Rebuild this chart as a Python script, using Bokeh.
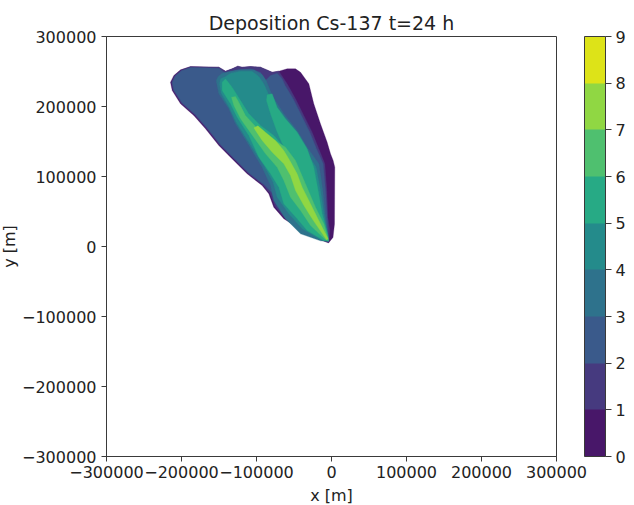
from bokeh.embed import file_html
from bokeh.resources import INLINE
from bokeh.plotting import figure
from bokeh.models import ColorBar, LinearColorMapper, FixedTicker

title = "Deposition Cs-137 t=24 h"
x_label = "x [m]"
y_label = "y [m]"
x_ticks = [-300000, -200000, -100000, 0, 100000, 200000, 300000]
y_ticks = [-300000, -200000, -100000, 0, 100000, 200000, 300000]
bar_ticks = [0, 1, 2, 3, 4, 5, 6, 7, 8, 9]
band_colors = ["#481769", "#463a7f", "#3a5a8b", "#2e728c", "#248b8b",
               "#27aa85", "#4fc06f", "#90d743", "#dde318"]

# Filled contour outlines in metres, one per deposition level
level0_x = [-4000, 2000, 4000, 4400, 2200, -1300, -5800, -14700, -23600, -30200, -41300, -48000, -59100, -70200, -79100,
            -94700, -108000, -119100, -125000, -132500, -141300, -150200, -188000, -201300, -210200, -214700,
            -212400, -201300, -183600, -168000, -150200, -134700, -112500, -92500, -83600, -77000, -63600, -45800,
            -28000, -12500]
level0_y = [5000, 13000, 32000, 113300, 122900, 132400, 149000, 175200, 203800, 232400, 249000, 253800, 253800, 250500,
            249000, 256200, 257100, 256200, 257600, 253800, 250500, 256200, 257100, 252400, 244300, 234800, 222900,
            203800, 187100, 168100, 144300, 127600, 103800, 87100, 75200, 56200, 39500, 27600, 18100, 8600]

level1_x = [-3600, -2200, -4900, -6200, -8900, -16900, -25800, -36900, -48000, -59100, -70200, -79100, -94700,
            -108000, -119100, -125000, -132500, -141300, -150200, -188000, -200800, -209400, -213500, -211400,
            -200300, -182600, -167000, -149200, -133700, -111500, -91500, -82000, -75200, -62300, -44800, -27000,
            -11500]
level1_y = [6200, 22800, 41900, 80000, 118100, 139500, 163300, 187100, 211000, 232400, 250500, 249000, 256200,
            257100, 256200, 257600, 253800, 250500, 256200, 256800, 251800, 244000, 234500, 223300, 204500, 187800,
            168800, 145000, 128300, 104500, 87800, 75800, 57000, 40500, 28300, 18800, 9300]

level2_x = [-4000, -5800, -8000, -11100, -20000, -28900, -40000, -51100, -61800, -65800, -72500, -81300, -88000,
            -94700, -108000, -125800, -141300, -150200, -188000, -200000, -208300, -212300, -210300, -199300,
            -181600, -166000, -148200, -132700, -110500, -90000, -79800, -72800, -60000, -42000, -25000, -10000]
level2_y = [6700, 41900, 80000, 118100, 139500, 163300, 187100, 211000, 230000, 239500, 247600, 244300, 237100,
            249000, 253800, 252400, 247600, 254800, 255800, 251000, 243500, 234200, 223700, 205200, 188500, 169500,
            145700, 129000, 105200, 88700, 77000, 58500, 42800, 30300, 20500, 9800]

level3_x = [-4000, -8400, -11600, -16900, -32500, -45800, -63600, -79100, -87100, -92500, -103600, -121300, -134700,
            -145800, -151100, -153800, -150200, -136900, -128000, -112500, -92500, -81300, -76900, -61300, -41300,
            -14700]
level3_y = [7100, 46700, 80000, 118100, 141900, 165700, 189500, 215700, 237100, 245700, 252400, 252400, 250500,
            247600, 242900, 237100, 218100, 196700, 175200, 149000, 113300, 87100, 65700, 39500, 18100, 8100]

level4_x = [-4000, -10200, -14700, -20500, -36000, -50200, -68000, -82200, -90200, -96900, -105800, -121300, -134700,
            -141300, -148000, -149300, -147100, -136000, -126700, -111100, -90200, -77800, -72500, -56900, -39100,
            -12500]
level4_y = [7600, 46700, 80000, 113300, 139500, 163300, 187100, 213300, 232400, 242900, 250500, 250500, 247600,
            242900, 239500, 232400, 219000, 198100, 176700, 150500, 115700, 91900, 70500, 46700, 25200, 8600]

level5_x = [-4000, -4500, -12500, -17800, -23600, -32500, -45800, -61300, -72500, -79100, -85800, -86700, -81300,
            -73300, -63600, -76900, -94700, -110200, -121300, -132500, -141300, -145800, -145800, -134700, -125800,
            -110200, -96900, -81300, -70200, -63600, -45800, -32500, -10200]
level5_y = [8100, 15700, 46700, 80000, 113300, 139500, 163300, 182400, 199000, 218100, 216700, 208600, 189500,
            165700, 141900, 158600, 172900, 189500, 208600, 227600, 239500, 234800, 222900, 203800, 184800, 158600,
            127600, 103800, 84800, 61000, 39500, 22900, 8600]

level6_x = [-4000, -10200, -21300, -34700, -48000, -61300, -81300, -101300, -114700, -123600, -128000, -133400,
            -130200, -121300, -110200, -88000, -72500, -63600, -54700, -41300, -28000, -8000]
level6_y = [8600, 32400, 56200, 89500, 122900, 141900, 155200, 171400, 187100, 206200, 214300, 213300, 201400,
            182400, 165700, 132400, 113300, 94300, 70500, 51400, 30000, 9500]

level7_x = [-4500, -16900, -28000, -39100, -45800, -55600, -63600, -74700, -88000, -98200, -103600, -92500, -79100,
            -63600, -54700, -48000, -36900, -25800, -6700]
level7_y = [10900, 37100, 60900, 84800, 103800, 122900, 137100, 151400, 163300, 172400, 169500, 151400, 134800,
            118100, 101400, 80000, 58600, 39500, 9500]

levels = [(level0_x, level0_y), (level1_x, level1_y), (level2_x, level2_y), (level3_x, level3_y),
          (level4_x, level4_y), (level5_x, level5_y), (level6_x, level6_y), (level7_x, level7_y)]

FONT = "DejaVu Sans"
INK = "#222222"
EDGE = "#3a3a3a"
MINUS = "\u2212"
TICK_SIZE = "16px"


def tick_text(v):
    return f"{MINUS}{abs(v)}" if v < 0 else str(v)


p = figure(width=637, height=509, x_range=(-300000, 300000), y_range=(-300000, 300000),
           output_backend="svg", toolbar_location=None, tools="", margin=(0, 0, -4, -3),
           min_border_left=109, min_border_right=78, min_border_top=36, min_border_bottom=53,
           x_axis_label=x_label, y_axis_label=y_label, background_fill_color="white")

for (lx, ly), c in zip(levels, band_colors):
    p.patch(lx, ly, fill_color=c, line_color=c, line_width=0.3)

p.title.text = title
p.title.align = "center"
p.title.text_font = FONT
p.title.text_font_size = "19px"
p.title.text_font_style = "normal"
p.title.text_color = INK
p.title.standoff = 5
p.grid.visible = False
p.outline_line_color = EDGE
p.outline_line_width = 1

for ax, ticks, label_gap, name_gap in ((p.xaxis[0], x_ticks, 4, 5), (p.yaxis[0], y_ticks, 5, 0)):
    ax.ticker = FixedTicker(ticks=ticks)
    ax.major_label_overrides = {t: tick_text(t) for t in ticks}
    ax.minor_tick_line_color = None
    ax.major_tick_in = 0
    ax.major_tick_out = 5
    ax.major_tick_line_color = EDGE
    ax.axis_line_color = EDGE
    ax.major_label_text_font = FONT
    ax.major_label_text_font_size = TICK_SIZE
    ax.major_label_text_color = INK
    ax.major_label_standoff = label_gap
    ax.axis_label_text_font = FONT
    ax.axis_label_text_font_size = TICK_SIZE
    ax.axis_label_text_font_style = "normal"
    ax.axis_label_text_color = INK
    ax.axis_label_standoff = name_gap

mapper = LinearColorMapper(palette=band_colors, low=bar_ticks[0], high=bar_ticks[-1])
cb = ColorBar(color_mapper=mapper, ticker=FixedTicker(ticks=bar_ticks), width=21, height=420,
              location=(28, 0), padding=0, margin=0,
              major_tick_in=0, major_tick_out=6, major_tick_line_color=EDGE, minor_tick_line_color=None,
              bar_line_color=EDGE, bar_line_width=1,
              major_label_text_font=FONT, major_label_text_font_size=TICK_SIZE, major_label_text_color=INK,
              label_standoff=4, title=None)
p.add_layout(cb, "right")

open("out.html", "w").write(file_html(p, INLINE))
